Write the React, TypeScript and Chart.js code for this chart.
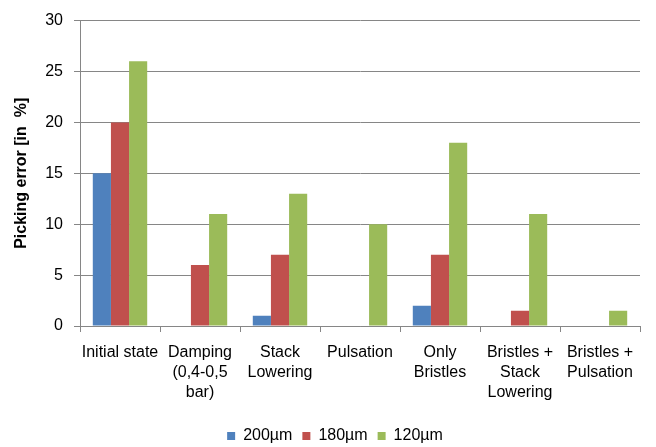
import React, { useEffect, useRef } from "react";
import { Chart, registerables } from "chart.js";

Chart.register(...registerables);

const categories: string[][] = [
  ["Initial state"],
  ["Damping", "(0,4-0,5", "bar)"],
  ["Stack", "Lowering"],
  ["Pulsation"],
  ["Only", "Bristles"],
  ["Bristles +", "Stack", "Lowering"],
  ["Bristles +", "Pulsation"],
];

const series200 = [15, 0, 1, 0, 2, 0, 0];
const series180 = [20, 6, 7, 0, 7, 1.5, 0];
const series120 = [26, 11, 13, 10, 18, 11, 1.5];

const seriesLabels = ["200µm", "180µm", "120µm"];
const seriesColors = ["#4F81BD", "#C0504D", "#9BBB59"];
const yTicks = [0, 5, 10, 15, 20, 25, 30];
const yTitle = "Picking error [in  %]";

export default function App() {
  const ref = useRef<HTMLCanvasElement | null>(null);
  useEffect(() => {
    if (!ref.current) return;
    const font = "'Liberation Sans', Arial, sans-serif";
    const chart = new Chart(ref.current, {
      type: "bar",
      data: {
        labels: categories,
        datasets: [series200, series180, series120].map((d, i) => ({
          label: seriesLabels[i],
          data: d,
          backgroundColor: seriesColors[i],
          borderWidth: 0,
          categoryPercentage: 0.68,
          barPercentage: 1.0,
        })),
      },
      options: {
        animation: false,
        responsive: true,
        maintainAspectRatio: false,
        layout: { padding: { top: 12, right: 16, left: 30, bottom: -7 } },
        plugins: {
          tooltip: { enabled: false },
          legend: {
            position: "bottom",
            labels: {
              boxWidth: 8,
              boxHeight: 8,
              padding: 10,
              color: "#000",
              font: { family: font, size: 16 },
            },
          },
        },
        scales: {
          x: {
            afterFit: (s: any) => {
              s.height = 92;
            },
            grid: {
              display: true,
              drawOnChartArea: false,
              drawTicks: true,
              tickLength: 6,
              color: "#868686",
              offset: true,
            },
            border: { color: "#868686", width: 1 },
            ticks: {
              color: "#000",
              font: { family: font, size: 16, lineHeight: 1.25 },
              maxRotation: 0,
              autoSkip: false,
              padding: 11,
            },
          },
          y: {
            min: 0,
            max: 30,
            afterFit: (s: any) => {
              s.width = 50;
            },
            afterBuildTicks: (axis: any) => {
              axis.ticks = yTicks.map((v) => ({ value: v }));
            },
            grid: {
              color: "#868686",
              tickLength: 6,
            },
            border: { color: "#868686", width: 1 },
            ticks: {
              color: "#000",
              font: { family: font, size: 16 },
              padding: 11,
            },
            title: {
              display: true,
              text: yTitle,
              color: "#000",
              font: { family: font, size: 16, weight: "bold" },
              padding: { top: -18, bottom: 13 },
            },
          },
        },
      },
    });
    return () => chart.destroy();
  }, []);
  return (
    <div style={{ position: "fixed", left: 0, top: 0, width: 656, height: 447, background: "#fff" }}>
      <canvas ref={ref} />
    </div>
  );
}
